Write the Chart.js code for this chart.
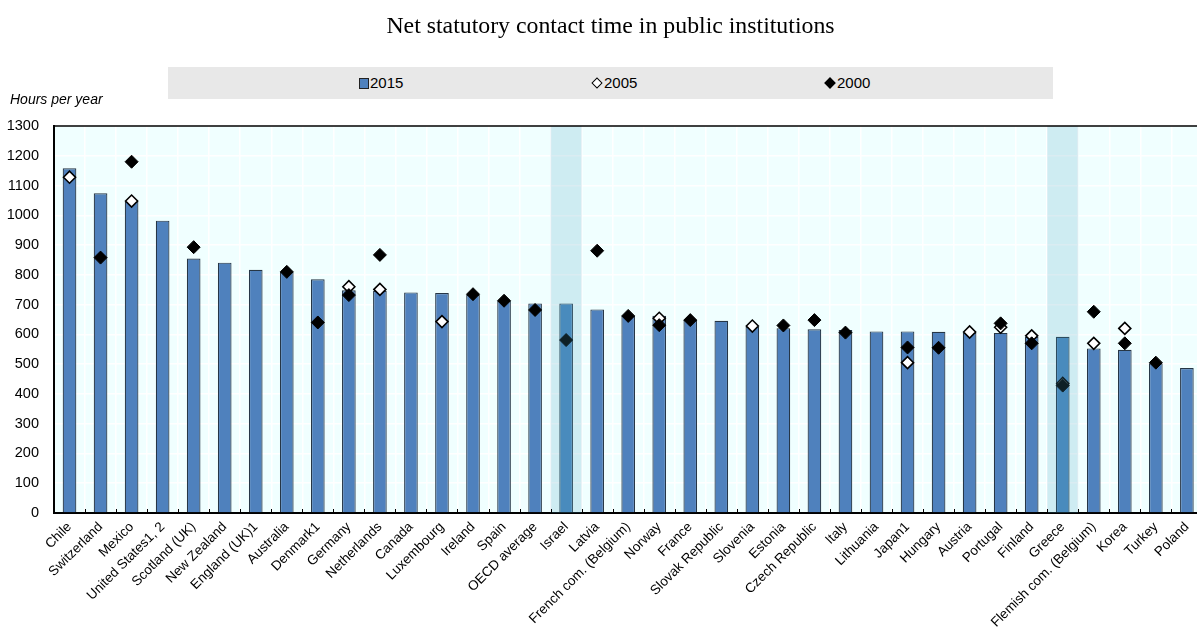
<!DOCTYPE html>
<html>
<head>
<meta charset="utf-8">
<script src="https://cdn.jsdelivr.net/npm/chart.js@4.4.0/dist/chart.umd.min.js"></script>
<style>
  html, body { margin: 0; padding: 0; background: #fff; overflow: hidden; }
  #wrap { position: relative; width: 1197px; height: 628px; overflow: hidden; }
  #title { position: absolute; left: 0; width: 1221px; top: 12px; text-align: center;
    font-family: "Liberation Serif", "Times New Roman", serif; font-size: 23.8px; color: #000; }
  #legend { position: absolute; left: 168px; top: 67px; width: 885px; height: 32px; background: #e8e8e8;
    font-family: "Liberation Sans", Arial, sans-serif; font-size: 15px; color: #000; }
  .item { position: absolute; top: 8px; line-height: 16px; }
  .sq { display: inline-block; width: 8px; height: 9px; background: #4f81bd; border: 1px solid #222; margin-right: 1px; vertical-align: -1px; }
  .dm { display: inline-block; width: 6px; height: 6px; transform: rotate(45deg); margin: 0 3px 0 2px; vertical-align: 1px; }
  #ylab { position: absolute; left: 10px; top: 91px; font-family: "Liberation Sans", Arial, sans-serif;
    font-style: italic; font-size: 14px; }
  #box { position: absolute; left: 0; top: 0; width: 1210px; height: 628px; }
</style>
</head>
<body>
<div id="wrap">
  <div id="box"><canvas id="chart" width="1210" height="628"></canvas></div>
  <div id="title">Net statutory contact time in public institutions</div>
  <div id="legend">
    <span class="item" style="left:191px"><span class="sq"></span>2015</span>
    <span class="item" style="left:423px"><span class="dm" style="background:#fff;border:1.5px solid #000"></span>2005</span>
    <span class="item" style="left:656px"><span class="dm" style="background:#000;border:1.5px solid #000"></span>2000</span>
  </div>
  <div id="ylab">Hours per year</div>
</div>
<script>
const countries = [
  "Chile", "Switzerland", "Mexico", "United States1, 2", "Scotland (UK)", "New Zealand",
  "England (UK)1", "Australia", "Denmark1", "Germany", "Netherlands", "Canada", "Luxembourg",
  "Ireland", "Spain", "OECD average", "Israel", "Latvia", "French com. (Belgium)", "Norway",
  "France", "Slovak Republic", "Slovenia", "Estonia", "Czech Republic", "Italy", "Lithuania",
  "Japan1", "Hungary", "Austria", "Portugal", "Finland", "Greece", "Flemish com. (Belgium)",
  "Korea", "Turkey", "Poland"
];

const hours2015 = [
  1158, 1074, 1047, 982, 855, 841,
  817, 810, 785, 748, 746, 741, 739,
  732, 712, 704, 704, 684, 663, 663,
  648, 646, 626, 621, 617, 615, 610,
  610, 609, 605, 605, 592, 592, 553,
  548, 503, 487
];

const hours2005 = [
  1128, null, 1048, null, null, null,
  null, null, null, 760, 751, null, 643,
  null, null, null, null, null, null, 654,
  null, null, 628, null, null, null, null,
  505, null, 608, 624, 595, 435, 570,
  620, null, null
];

const hours2000 = [
  null, 858, 1180, null, 893, null,
  null, 810, 640, 732, 867, null, null,
  735, 713, 682, 581, 881, 662, 631,
  648, null, null, 630, 648, 606, null,
  556, 555, null, 637, 570, 428, 676,
  570, 505, null
];

const highlighted = ["Israel", "Greece"];
const yTicks = [0, 100, 200, 300, 400, 500, 600, 700, 800, 900, 1000, 1100, 1200, 1300];

const plotDecor = {
  id: "plotDecor",
  beforeDraw(chart) {
    const { ctx, chartArea: a } = chart;
    ctx.save();
    ctx.fillStyle = "#f0ffff";
    ctx.fillRect(a.left, a.top, a.right - a.left, a.bottom - a.top);
    ctx.restore();
  },
  afterDatasetsDraw(chart) {
    const { ctx, chartArea: a, scales } = chart;
    const x = scales.x;
    const step = x.getPixelForValue(1) - x.getPixelForValue(0);
    ctx.save();
    // shaded columns
    ctx.fillStyle = "rgba(70, 160, 190, 0.2)";
    highlighted.forEach(name => {
      const i = countries.indexOf(name);
      const cx = x.getPixelForValue(i);
      ctx.fillRect(cx - step / 2, a.top, step, a.bottom - a.top);
    });
    // small inner ticks on the category axis
    ctx.strokeStyle = "#000";
    ctx.lineWidth = 1;
    ctx.beginPath();
    for (let i = 0; i <= countries.length; i++) {
      const bx = Math.round(x.getPixelForValue(i) - step / 2) + 0.5;
      ctx.moveTo(bx, a.bottom);
      ctx.lineTo(bx, a.bottom - 4);
    }
    ctx.stroke();
    // top frame line
    ctx.lineWidth = 1.5;
    ctx.beginPath();
    ctx.moveTo(a.left, a.top);
    ctx.lineTo(a.right, a.top);
    ctx.stroke();
    ctx.restore();
  }
};

const barColors = countries.map(c => highlighted.includes(c) ? "#4a86bd" : "#4f81bd");

new Chart(document.getElementById("chart"), {
  type: "bar",
  data: {
    labels: countries,
    datasets: [
      {
        type: "line",
        label: "2000",
        data: hours2000,
        showLine: false,
        pointStyle: "rectRot",
        pointRadius: 6.5,
        pointBackgroundColor: "#000",
        pointBorderColor: "#000",
        pointBorderWidth: 1,
        order: 0
      },
      {
        type: "line",
        label: "2005",
        data: hours2005,
        showLine: false,
        pointStyle: "rectRot",
        pointRadius: 6,
        pointBackgroundColor: "#fff",
        pointBorderColor: "#000",
        pointBorderWidth: 1.6,
        order: 1
      },
      {
        label: "2015",
        data: hours2015,
        backgroundColor: barColors,
        borderColor: "#263646",
        borderWidth: { top: 1.2, left: 1.2, right: 1.2, bottom: 0 },
        barPercentage: 0.44,
        categoryPercentage: 1,
        order: 2
      }
    ]
  },
  options: {
    responsive: false,
    animation: false,
    devicePixelRatio: 1,
    layout: { padding: { top: 126, right: 4, left: 0, bottom: 0 } },
    plugins: { legend: { display: false }, title: { display: false }, tooltip: { enabled: false } },
    scales: {
      x: {
        offset: true,
        grid: { offset: true, color: "#ffffff", lineWidth: 1.5, drawTicks: false },
        border: { display: true, color: "#000", width: 2 },
        ticks: {
          autoSkip: false,
          maxRotation: 45,
          minRotation: 45,
          padding: 6,
          color: "#000",
          font: { family: "'Liberation Sans', Arial, sans-serif", size: 13.5 }
        },
        afterFit(s) { s.height = 115; }
      },
      y: {
        min: 0,
        max: 1300,
        afterBuildTicks(s) { s.ticks = yTicks.map(v => ({ value: v })); },
        grid: { color: "#ffffff", lineWidth: 1.5, drawTicks: false },
        border: { display: true, color: "#000", width: 2 },
        ticks: {
          padding: 15,
          color: "#000",
          callback: v => String(v),
          font: { family: "'Liberation Sans', Arial, sans-serif", size: 14.5 }
        },
        afterFit(s) { s.width = 54; }
      }
    }
  },
  plugins: [plotDecor]
});
</script>
</body>
</html>
